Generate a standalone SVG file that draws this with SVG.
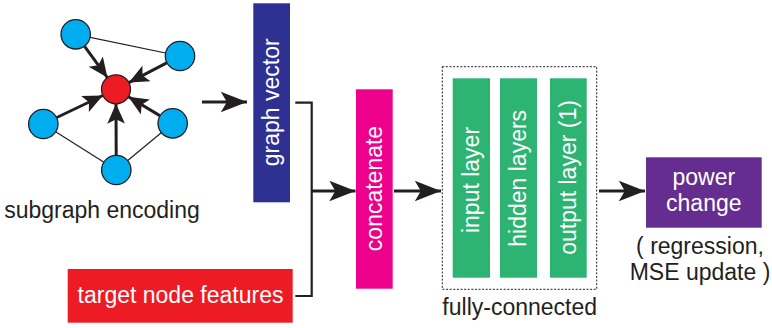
<svg xmlns="http://www.w3.org/2000/svg" width="772" height="328" viewBox="0 0 772 328">
<style>
  .lbl { font-family: "Liberation Sans", Arial, sans-serif; font-size: 23px; fill: #231F20; }
  .wt { font-family: "Liberation Sans", Arial, sans-serif; font-size: 23px; fill: #FFFFFF; text-anchor: middle; }
  .thin { stroke: #231F20; stroke-width: 1.2; fill: none; }
  .gnode { fill: #00AEEF; stroke: #231F20; stroke-width: 1.3; }
  .arr { stroke: #231F20; stroke-width: 3.2; fill: none; marker-end: url(#ah); }
  .garr { stroke: #231F20; stroke-width: 3; fill: none; marker-end: url(#gh); }
  .brk { stroke: #231F20; stroke-width: 2.2; fill: none; }
</style>
<defs>
  <marker id="ah" markerUnits="userSpaceOnUse" markerWidth="30" markerHeight="24" viewBox="-25 -11 26 22" refX="0" refY="0" orient="auto">
    <path d="M0,0 L-24,-9.5 L-18.5,0 L-24,9.5 Z" fill="#231F20"/>
  </marker>
  <marker id="gh" markerUnits="userSpaceOnUse" markerWidth="22" markerHeight="20" viewBox="-19 -9 20 18" refX="0" refY="0" orient="auto">
    <path d="M0,0 L-18,-8 L-14,0 L-18,8 Z" fill="#231F20"/>
  </marker>
</defs>

<g id="subgraph-encoding">
  <line class="thin" x1="75.7" y1="34.3" x2="180" y2="56"/>
  <line class="thin" x1="43.3" y1="124" x2="116.3" y2="170"/>
  <line class="thin" x1="172.7" y1="123.3" x2="116.3" y2="170"/>
  <line class="garr" x1="84.6" y1="46.4" x2="107.4" y2="77.6"/>
  <line class="garr" x1="166.7" y1="62.9" x2="128.9" y2="82.6"/>
  <line class="garr" x1="56.8" y1="117.5" x2="102.9" y2="95.5"/>
  <line class="garr" x1="159.8" y1="115.6" x2="128.4" y2="96.8"/>
  <line class="garr" x1="116.2" y1="155" x2="116" y2="103.8"/>
  <circle class="gnode" cx="75.7" cy="34.3" r="14.7"/>
  <circle class="gnode" cx="180" cy="56" r="14.7"/>
  <circle class="gnode" cx="43.3" cy="124" r="14.7"/>
  <circle class="gnode" cx="172.7" cy="123.3" r="14.7"/>
  <circle class="gnode" cx="116.3" cy="170" r="14.7"/>
  <circle cx="116" cy="89.3" r="14.5" fill="#ED1C24" stroke="#231F20" stroke-width="1.3"/>
  <text class="lbl" x="102" y="218" text-anchor="middle">subgraph encoding</text>
</g>

<g id="graph-vector">
  <rect x="253.3" y="3.3" width="36.7" height="199" fill="#2E3192"/>
  <text class="wt" transform="translate(271.7,102.3) rotate(-90)" y="7.6">graph vector</text>
</g>

<g id="target-node-features">
  <rect x="67.7" y="269" width="225" height="53.7" fill="#ED1C24"/>
  <text class="wt" x="180.5" y="302.7">target node features</text>
</g>

<g id="concatenate">
  <rect x="356" y="89.3" width="36.7" height="199.4" fill="#EC008C"/>
  <text class="wt" transform="translate(374.3,188.5) rotate(-90)" y="7.7">concatenate</text>
</g>

<g id="fully-connected">
  <rect x="442.3" y="66.7" width="154.4" height="222.6" fill="none" stroke="#231F20" stroke-width="1" stroke-dasharray="2,1.6"/>
  <text class="lbl" x="519.7" y="315" text-anchor="middle">fully-connected</text>
</g>

<g id="input-layer">
  <rect x="452.7" y="78.3" width="37.3" height="199.4" fill="#2DB473"/>
  <text class="wt" transform="translate(471.3,180) rotate(-90)" y="7.6">input layer</text>
</g>

<g id="hidden-layers">
  <rect x="500" y="78.3" width="37" height="199.4" fill="#2DB473"/>
  <text class="wt" transform="translate(518.5,178.3) rotate(-90)" y="7.6">hidden layers</text>
</g>

<g id="output-layer">
  <rect x="550" y="78.3" width="36.7" height="199.4" fill="#2DB473"/>
  <text class="wt" transform="translate(568.3,177.5) rotate(-90)" y="7.6">output layer (1)</text>
</g>

<g id="power-change">
  <rect x="646" y="157.3" width="115.7" height="70.4" fill="#662D91"/>
  <text class="wt" x="703.8" y="185">power</text>
  <text class="wt" x="703.8" y="211">change</text>
  <text class="lbl" x="700" y="254" text-anchor="middle">( regression,</text>
  <text class="lbl" x="700" y="280" text-anchor="middle">MSE update )</text>
</g>

<g id="connectors">
  <line class="arr" x1="202" y1="102" x2="247" y2="102"/>
  <polyline class="brk" points="295.3,102.7 311.7,102.7 311.7,296 295.3,296"/>
  <line class="arr" x1="311.7" y1="191" x2="355.5" y2="191"/>
  <line class="arr" x1="394" y1="191" x2="441" y2="191"/>
  <line class="arr" x1="599" y1="191" x2="645" y2="191"/>
</g>
</svg>
